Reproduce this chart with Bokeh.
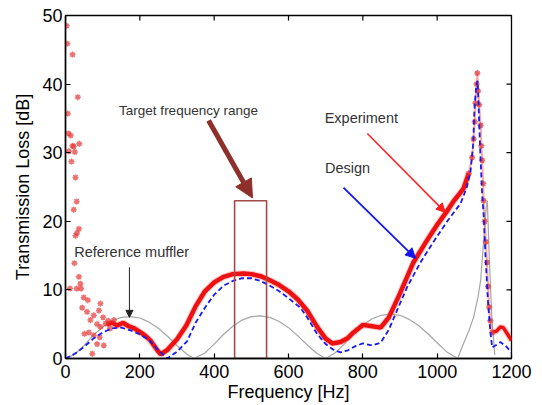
import math
from bokeh.plotting import figure
from bokeh.models import Range1d, FixedTicker, Arrow, NormalHead, Label
from bokeh.embed import file_html
from bokeh.resources import INLINE

# ---------------- data ----------------
x_ticks = [0, 200, 400, 600, 800, 1000, 1200]
y_ticks = [0, 10, 20, 30, 40, 50]

# Reference muffler (thin grey)
ref_f = [0, 25, 50, 75, 100, 125, 150, 175, 200, 225, 250, 275, 300, 325, 345,
         375, 400, 425, 450, 475, 500, 525, 550, 575, 600, 625, 650, 675, 700,
         725, 750, 775, 800, 825, 850, 875, 900, 925, 950, 975, 1000, 1025, 1055,
         1071, 1085, 1098, 1110, 1117, 1125, 1132, 1135, 1140, 1147, 1155]
ref_tl = [0, 0.6, 1.9, 3.4, 4.6, 5.5, 6.0, 6.1, 5.9, 5.3, 4.4, 3.2, 1.9, 0.7, 0,
          0.8, 2.1, 3.5, 4.7, 5.6, 6.1, 6.2, 6.0, 5.4, 4.5, 3.3, 2.0, 0.8, 0,
          0.8, 2.1, 3.6, 4.9, 5.8, 6.3, 6.5, 6.3, 5.7, 4.8, 3.6, 2.3, 1.0, 0,
          2.2, 4.0, 6.0, 9.0, 11.4, 17.0, 22.0, 23.0, 15.0, 6.0, 0.5]

# Design (blue dashed)
des_f = [0, 25, 50, 75, 100, 125, 150, 175, 200, 225, 250, 274, 300, 327, 350,
         375, 400, 425, 450, 475, 500, 525, 550, 575, 600, 632, 650, 677, 700,
         720, 740, 760, 780, 800, 825, 848, 870, 892, 920, 955, 990, 1027, 1063,
         1080, 1090, 1097, 1100, 1105, 1109, 1112, 1116, 1121, 1125, 1130, 1137,
         1143, 1148, 1160, 1170, 1185, 1200]
des_tl = [0, 0.7, 1.7, 2.9, 3.8, 4.4, 4.5, 4.1, 3.5, 2.7, 1.2, 0, 1.0, 2.5, 5.2,
          7.4, 9.3, 10.6, 11.3, 11.7, 11.7, 11.3, 10.6, 9.8, 8.8, 7.4, 6.0, 3.6, 2.1,
          1.3, 0.9, 1.2, 1.8, 2.2, 1.9, 2.3, 4.2, 7.0, 10.5, 14.0, 17.0, 20.0, 22.6,
          25.0, 27.4, 31.3, 36.0, 39.8, 40.5, 36.0, 30.0, 24.0, 21.0, 15.0, 8.0,
          4.0, 1.6, 2.0, 2.4, 1.8, 0.9]

# Experiment (red) - continuous band
exp_f = [110, 125, 140, 155, 170, 185, 202, 215, 229, 247, 256, 275, 300, 325,
         350, 375, 400, 425, 450, 479, 500, 525, 550, 575, 600, 625, 650, 677,
         700, 718, 740, 760, 775, 800, 825, 848, 870, 900, 936, 970, 1000, 1028,
         1045, 1060, 1071, 1085]
exp_tl = [5.0, 5.2, 4.8, 5.2, 4.7, 4.4, 3.8, 3.3, 2.6, 1.2, 0.6, 1.3, 2.8, 4.8,
          7.6, 9.8, 11.1, 11.9, 12.3, 12.4, 12.3, 12.0, 11.4, 10.7, 9.8, 8.6, 7.0, 4.6,
          2.9, 2.2, 2.4, 3.0, 3.8, 4.9, 4.7, 4.5, 6.0, 9.5, 14.0, 17.0, 19.5, 21.6,
          23.0, 24.0, 24.8, 27.0]

# Experiment (red) - resonance peak, individual points
pk_f = [1085, 1094, 1098, 1101, 1103, 1106, 1108, 1110, 1113, 1117, 1119, 1121,
        1124, 1125, 1128, 1131, 1134, 1137, 1140, 1143, 1148]
pk_tl = [27.0, 29.3, 32.0, 34.5, 37.2, 40.0, 41.6, 39.0, 37.0, 34.0, 31.0, 28.9,
         25.5, 23.0, 20.0, 17.0, 14.0, 10.5, 7.5, 5.5, 3.8]

# Experiment (red) - tail after peak
tail_f = [1148, 1160, 1170, 1178, 1190, 1200]
tail_tl = [3.8, 4.0, 4.6, 4.5, 3.5, 2.6]

# Experiment (red) - scattered low-frequency points
sc_f = [3, 5, 19, 33, 6, 8, 14, 19, 22, 37, 9, 25, 16, 27, 30, 22, 36, 31, 27,
        24, 36, 40, 12, 30, 42, 49, 60, 45, 94, 58, 90, 76, 101, 67, 85, 94, 108,
        51, 63, 76, 92, 85, 103, 72, 115, 120, 130]
sc_tl = [48.5, 45.9, 44.3, 38.1, 35.7, 32.8, 32.5, 31.0, 30.9, 31.3, 30.2, 30.1,
         28.7, 26.4, 22.9, 21.7, 18.9, 18.3, 17.9, 13.9, 11.9, 10.9, 10.2, 10.2,
         10.2, 8.9, 8.5, 7.4, 8.0, 6.8, 7.0, 6.3, 6.0, 5.6, 5.0, 4.6, 5.1, 3.6,
         3.8, 3.4, 3.1, 2.1, 1.9, 0.7, 5.5, 4.4, 5.6]

# Target frequency range box
target_lo, target_hi, target_top = 455, 541, 23.0

FONT = "Liberation Sans"
X_MAX, Y_MAX = 1200, 50

# ---------------- figure ----------------
p = figure(width=542, height=405, x_range=Range1d(0, X_MAX), y_range=Range1d(0, Y_MAX),
           output_backend="svg", toolbar_location=None,
           min_border_left=65, min_border_right=31, min_border_top=15, min_border_bottom=47)
p.background_fill_color = "white"
p.border_fill_color = "white"
p.outline_line_color = "black"
p.outline_line_width = 1.3
p.xgrid.visible = False
p.ygrid.visible = False

for ax, ticks in ((p.xaxis[0], x_ticks), (p.yaxis[0], y_ticks)):
    ax.ticker = FixedTicker(ticks=ticks)
    ax.minor_tick_line_color = None
    ax.major_tick_in = 5
    ax.major_tick_out = 0
    ax.axis_line_width = 1.5
    ax.axis_line_color = "black"
    ax.major_tick_line_color = "black"
    ax.major_tick_line_width = 1.2
    ax.major_label_text_font = FONT
    ax.major_label_text_font_size = "18px"
    ax.major_label_text_color = "black"
    ax.axis_label_text_font = FONT
    ax.axis_label_text_font_size = "18px"
    ax.axis_label_text_font_style = "normal"
    ax.axis_label_text_color = "black"

p.xaxis.axis_label = "Frequency [Hz]"
p.yaxis.axis_label = "Transmission Loss [dB]"
p.xaxis.major_label_standoff = 6
p.xaxis.axis_label_standoff = 1
p.yaxis.major_label_standoff = 3
p.yaxis.axis_label_standoff = 6

# inward ticks on the top and right edges of the box (half of each dash is clipped)
p.scatter(x_ticks, [Y_MAX] * len(x_ticks), marker="dash", size=10, angle=math.pi / 2,
          line_color="black", line_width=1.2)
p.scatter([X_MAX] * len(y_ticks), y_ticks, marker="dash", size=10,
          line_color="black", line_width=1.2)

# reference muffler
p.line(ref_f, ref_tl, line_color="#a6a6a6", line_width=1.2)

# experiment
p.line(exp_f, exp_tl, line_color="#ff6060", line_width=6.5, line_alpha=0.35)
p.line(exp_f, exp_tl, line_color="#ee1111", line_width=4.5)
p.line(tail_f, tail_tl, line_color="#ff6060", line_width=6, line_alpha=0.35)
p.line(tail_f, tail_tl, line_color="#ee1111", line_width=3.5)
p.line(pk_f, pk_tl, line_color="#ff6a6a", line_width=2, line_alpha=0.6)
p.scatter(pk_f, pk_tl, marker="asterisk", size=6, line_color="#e03030",
          line_width=1.5, line_alpha=0.75)
p.scatter(sc_f, sc_tl, marker="asterisk", size=6, line_color="#e53535",
          line_width=1.5, line_alpha=0.7)

# design
p.line(des_f, des_tl, line_color="#1a1aee", line_width=1.8, line_dash="5 3")

# target range box
p.quad(left=[target_lo], right=[target_hi], bottom=[0], top=[target_top],
       fill_color=None, line_color="#a24a48", line_width=1.6)

# arrows
p.add_layout(Arrow(x_start=385, y_start=34.7, x_end=503, y_end=23.4,
                   line_color="#8e2f2b", line_width=5,
                   end=NormalHead(size=18, fill_color="#8e2f2b", line_color="#8e2f2b")))
p.add_layout(Arrow(x_start=812, y_start=32.8, x_end=1022, y_end=21.3,
                   line_color="#ff2020", line_width=1.5,
                   end=NormalHead(size=9, fill_color="#ff2020", line_color="#ff2020")))
p.add_layout(Arrow(x_start=748, y_start=24.9, x_end=942, y_end=14.6,
                   line_color="#1515ee", line_width=1.8,
                   end=NormalHead(size=10, fill_color="#1515ee", line_color="#1515ee")))
p.add_layout(Arrow(x_start=172, y_start=13.3, x_end=172, y_end=6.0,
                   line_color="#222222", line_width=1,
                   end=NormalHead(size=7, fill_color="#222222", line_color="#222222")))

# labels
for txt, x, y, sz in (("Target frequency range", 331, 36.2, "13.5px"),
                      ("Experiment", 796, 35.0, "14.5px"),
                      ("Design", 759, 27.8, "14.5px"),
                      ("Reference muffler", 178, 15.5, "14.5px")):
    p.add_layout(Label(x=x, y=y, text=txt, text_align="center", text_baseline="middle",
                       text_font=FONT, text_font_size=sz, text_color="#333333"))

open("out.html", "w").write(file_html(p, INLINE))
